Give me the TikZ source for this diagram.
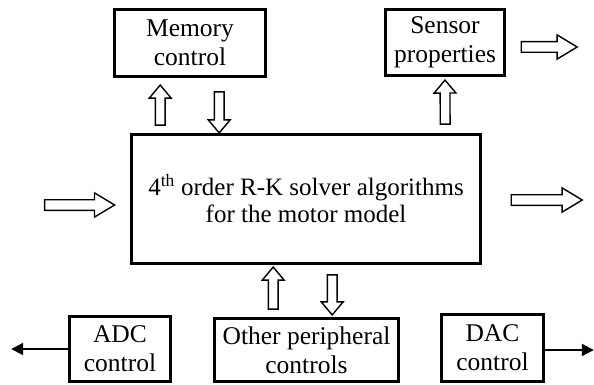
\documentclass[tikz,border=0pt]{standalone}
\usepackage{fontspec}
\setmainfont{Liberation Serif}
\usetikzlibrary{shapes.arrows,arrows.meta,calc}
\tikzset{
  blockbox/.style={draw, line width=2.6pt, inner sep=0pt, align=center,
    font=\fontsize{25.5}{29}\selectfont},
  hollow/.style={single arrow, draw, line width=1.4pt, inner xsep=0pt,
    inner ysep=4.2pt, single arrow head extend=6pt,
    single arrow tip angle=80, sloped, allow upside down},
  hollowh/.style={hollow, inner ysep=4.6pt, single arrow head extend=6.8pt,
    single arrow tip angle=62},
  thinarrow/.style={line width=2pt, -{Triangle[length=12pt,width=12pt]}}
}
\begin{document}
\begin{tikzpicture}[x=1pt,y=-1pt]
\useasboundingbox (0,0) rectangle (594,385);
% boxes
\node[blockbox, minimum width=151pt, minimum height=67pt] (mem) at (190,43) {Memory\\control};
\node[blockbox, minimum width=119pt, minimum height=66pt] (sen) at (445,42.5) {Sensor\\properties};
\node[blockbox, minimum width=349pt, minimum height=129pt,
      font=\fontsize{25}{27}\selectfont] (main) at (306,199)
      {4\textsuperscript{th} order R-K solver algorithms\\for the motor model};
\node[blockbox, minimum width=101pt, minimum height=65pt] (adc) at (120,349) {ADC\\control};
\node[blockbox, minimum width=184pt, minimum height=63pt] (oth) at (306.5,350) {Other peripheral\\controls};
\node[blockbox, minimum width=102pt, minimum height=67pt] (dac) at (492.5,348) {DAC\\control};
% hollow arrows
\path ($(main.north west)+(30,-5)$) -- ($(mem.south west)+(47,10)$)
  node[midway, hollow, minimum height=40pt] (a1) {};
\path ($(mem.south west)+(106,11)$) -- ($(main.north west)+(89,-3)$)
  node[midway, hollow, minimum height=41pt] (a2) {};
\path ($(main.north west)+(315,-6)$) -- ($(sen.south)+(0,6)$)
  node[midway, hollow, minimum height=44pt] (a3) {};
\path ($(sen.east)+(11,4.5)$) -- ($(sen.east)+(67,4.5)$)
  node[midway, hollowh, minimum height=56pt] (a4) {};
\coordinate (inp) at ($(main.west)+(-90,6)$);
\path (inp) -- ($(main.west)+(-20,6)$)
  node[midway, hollowh, minimum height=70pt] (a5) {};
\coordinate (outp) at ($(main.east)+(96,1)$);
\path ($(main.east)+(25,1)$) -- (outp)
  node[midway, hollowh, minimum height=71pt] (a6) {};
\path ($(oth.north west)+(60,-5)$) -- ($(main.south west)+(143,5)$)
  node[midway, hollow, minimum height=42pt] (a7) {};
\path ($(main.south west)+(202,7)$) -- ($(oth.north west)+(119,-5)$)
  node[midway, hollow, minimum height=40pt] (a8) {};
% thin arrows
\coordinate (adcout) at ($(adc.west)+(-57,0)$);
\draw[thinarrow] (adc.west) -- (adcout);
\coordinate (dacout) at ($(dac.east)+(49,2)$);
\draw[thinarrow] (dac.east |- dacout) -- (dacout);
\end{tikzpicture}
\end{document}
